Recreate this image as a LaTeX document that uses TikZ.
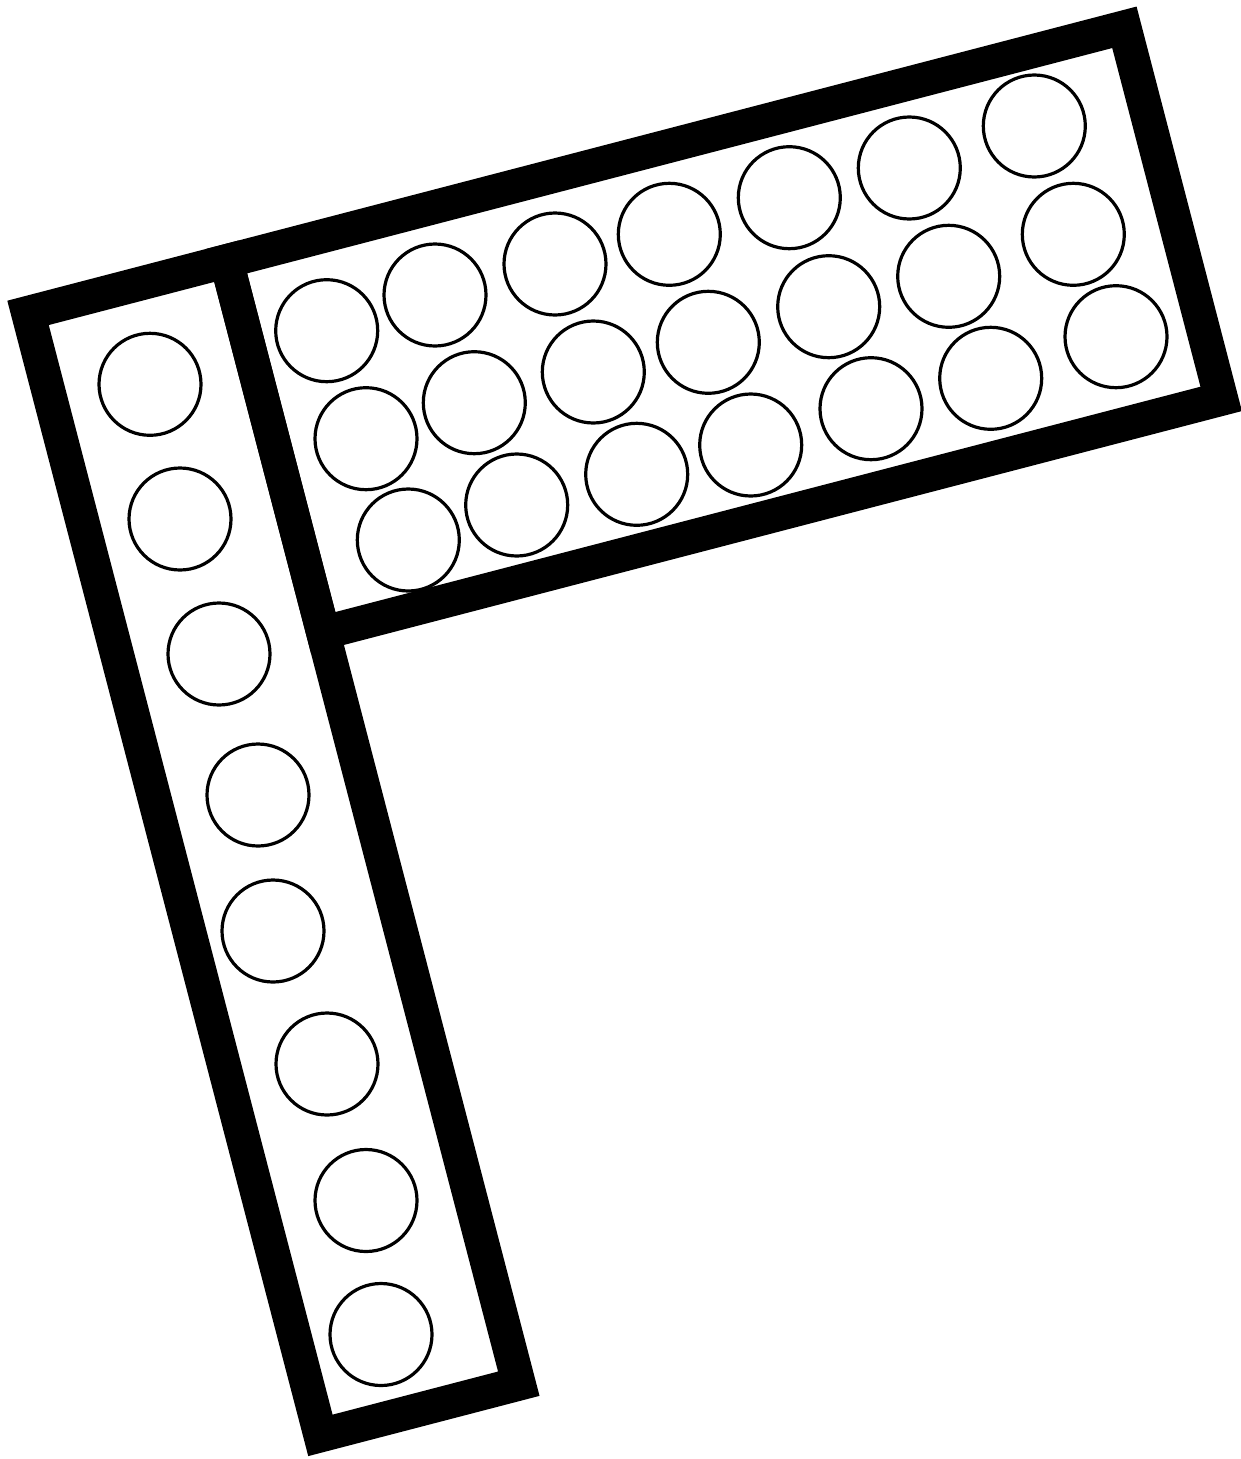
\documentclass[tikz,border=0pt]{standalone}
\begin{document}
\begin{tikzpicture}[x=1pt,y=-1pt,
  frame/.style={draw=black,line width=34pt,line join=miter},
  dot/.style={draw=black,line width=3.2pt,fill=none}]
\useasboundingbox[fill=white] (0,0) rectangle (1241,1459);
% rotated frames (local a along short side, b along long side)
\begin{scope}[shift={(7.3,300.7)},rotate=14.6]
  \draw[frame] (17,17) -- (222,17) -- (222,1177) -- (17,1177) -- cycle;
  \draw[frame] (222,17) -- (1150,17) -- (1150,401) -- (222,401) -- cycle;
\end{scope}
% circles in the top box
\foreach \cx/\cy in {
  326.7/330.7, 435/295, 555/264, 669.3/234.3, 789.3/197.7, 909.3/168, 1034.3/126,
  366/438.7, 474.3/402.7, 593.3/372, 708.3/342.3, 828.7/306.7, 948.7/276.3, 1073.3/234.3,
  408.3/540, 516.7/505, 636.7/474.3, 750.7/445, 871/408.7, 990.7/378.3, 1116/336.7}
  \draw[dot] (\cx,\cy) circle[radius=51];
% circles in the left box
\foreach \cx/\cy in {
  150/384.3, 180/519, 219/654, 258/795, 273/931, 327/1064, 366/1200.5, 381/1334.5}
  \draw[dot] (\cx,\cy) circle[radius=51];
\end{tikzpicture}
\end{document}
